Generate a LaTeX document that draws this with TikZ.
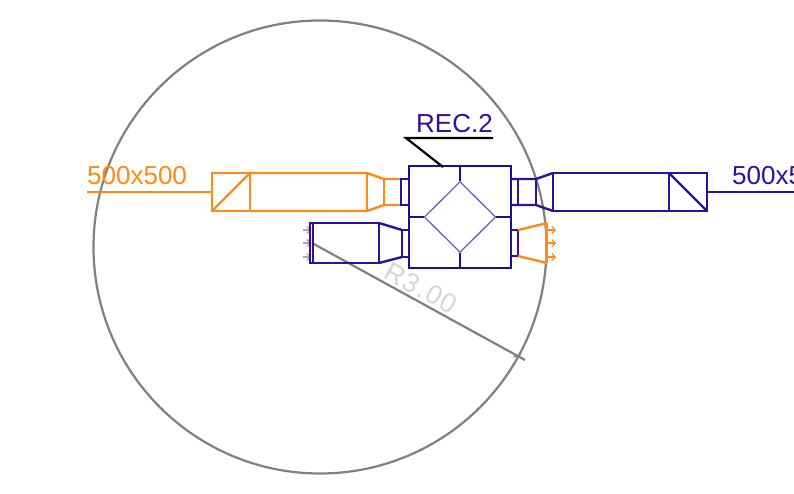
\documentclass[tikz,border=0pt]{standalone}
\usepackage{fontspec}
\setmainfont{Liberation Sans}
\usetikzlibrary{arrows.meta, shapes.geometric}

\begin{document}
\begin{tikzpicture}[
            x = 1pt,
            y = -1pt,
            orangeduct/.style = {draw = ductorange, line width = 2.4pt},
            blueduct/.style = {draw = ductblue, line width = 2.4pt},
            unitline/.style = {draw = unitblue, line width = 2.8pt},
            coreline/.style = {draw = unitblue!65, line width = 1.3pt},
            greyline/.style = {draw = black!50, line width = 2.2pt},
            ductlabel/.style = {inner sep = 0 pt, anchor = base west, font = \fontsize{26}{26}\selectfont},
            airflow/.style = {-{Straight Barb[length=3.5pt, width=7pt]}, line width = 1.1pt},
        ]
        \definecolor{ductorange}{HTML}{FF8A14}
        \definecolor{ductblue}{HTML}{2E10A0}
        \definecolor{unitblue}{HTML}{14109C}

        \useasboundingbox (0,0) rectangle (794,494);
        \clip (0,0) rectangle (794,494);

        % Cirkel en straal
        \node[circle, greyline, minimum size = 453 pt, inner sep = 0 pt] (zone) at (320,247) {};
        \coordinate (radius_start) at (312,243);
        \coordinate (radius_end) at (525,360);
        \draw[greyline] (radius_start) -- (radius_end);
        \draw[greyline, line width = 1pt] (513,357) -- (521,356);
        \node[rotate = -29, text = black!16, inner sep = 0 pt, font = \fontsize{27}{27}\selectfont\addfontfeatures{LetterSpace = 6}] (radius_label) at (421,288) {R3.00};

        % Toestel
        \node[unitline, minimum width = 102 pt, minimum height = 102 pt, inner sep = 0 pt] (unit) at (460,217) {};
        \node[diamond, coreline, minimum width = 71.5 pt, minimum height = 71 pt, inner sep = 0 pt] (core) at (460,217) {};
        \path[unitline]
            (unit.north) edge (core.north)
            (unit.south) edge (core.south)
            (unit.west) edge (core.west)
            (unit.east) edge (core.east);

        % Label toestel
        \node[ductlabel, text = ductblue] (unit_label) at (416,133) {REC.2};
        \coordinate (leader_start) at (493,138);
        \coordinate (leader_bend) at (406,138);
        \coordinate (leader_end) at (443,167);
        \draw[black, line width = 2.2pt] (leader_start) -- (leader_bend) -- (leader_end);

        % Toevoer links
        \draw[orangeduct] (87,192) -- (212,192);
        \draw[orangeduct] (212,173) rectangle (250,211);
        \draw[orangeduct] (212,211) -- (250,173);
        \draw[orangeduct] (250,173) -- (367,173) -- (384,179) -- (401,179);
        \draw[orangeduct] (250,211) -- (367,211) -- (384,205) -- (401,205);
        \draw[orangeduct] (367,173) -- (367,211);
        \draw[orangeduct] (384,179) -- (384,205);
        \draw[blueduct] (401,179) rectangle (409,205);
        \node[ductlabel, text = ductorange] (left_label) at (87,185) {500x500};

        % Afvoer rechts
        \draw[blueduct] (511,179) -- (536,179) -- (553,173);
        \draw[blueduct] (511,205) -- (536,205) -- (553,211);
        \draw[blueduct] (518,179) -- (518,205);
        \draw[blueduct] (536,179) -- (536,205);
        \draw[blueduct] (553,173) rectangle (669,211);
        \draw[blueduct] (669,173) rectangle (707,211);
        \draw[blueduct] (669,173) -- (707,211);
        \draw[blueduct] (707,192) -- (794,192);
        \node[ductlabel, text = ductblue] (right_label) at (732,185) {500x500};

        % Rooster links
        \foreach \ypos in {230,243,257}
            \draw[airflow, ductblue!40] (303,\ypos) -- (311,\ypos);
        \draw[blueduct] (310,223) rectangle (379,263);
        \draw[blueduct] (313,223) -- (313,263);
        \draw[blueduct] (379,223) -- (402,230);
        \draw[blueduct] (379,263) -- (402,257);
        \draw[blueduct] (402,230) rectangle (409,257);

        % Rooster rechts
        \draw[blueduct] (511,230) rectangle (518,256);
        \draw[orangeduct] (518,230) -- (547,223);
        \draw[orangeduct] (518,256) -- (547,263);
        \draw[orangeduct] (546.5,223) -- (546.5,263);
        \foreach \ypos in {230,243,257}
            \draw[airflow, ductorange] (548,\ypos) -- (556,\ypos);
\end{tikzpicture}
\end{document}
